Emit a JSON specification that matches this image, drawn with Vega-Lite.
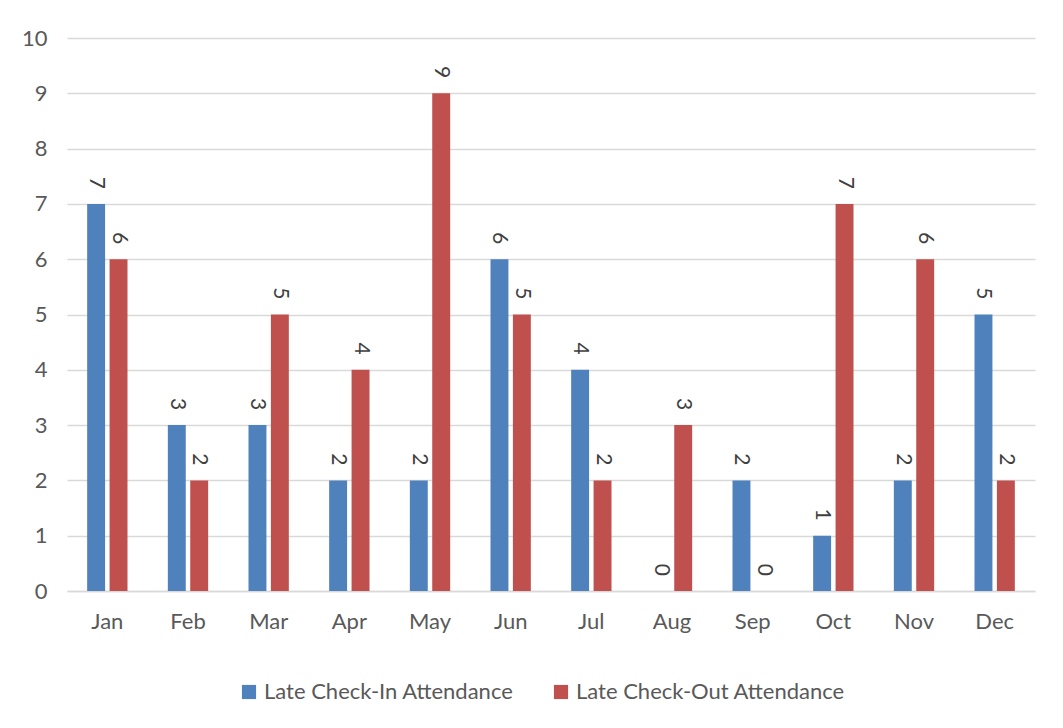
{
  "$schema": "https://vega.github.io/schema/vega-lite/v6.json",
  "width": 968,
  "height": 553,
  "autosize": {"type": "none"},
  "padding": {"left": 67, "top": 38, "right": 28, "bottom": 137},
  "background": "white",
  "config": {"view": {"stroke": null}, "font": "Lato"},
  "data": {
    "values": [
      {"month": "Jan", "series": "Late Check-In Attendance", "value": 7},
      {"month": "Jan", "series": "Late Check-Out Attendance", "value": 6},
      {"month": "Feb", "series": "Late Check-In Attendance", "value": 3},
      {"month": "Feb", "series": "Late Check-Out Attendance", "value": 2},
      {"month": "Mar", "series": "Late Check-In Attendance", "value": 3},
      {"month": "Mar", "series": "Late Check-Out Attendance", "value": 5},
      {"month": "Apr", "series": "Late Check-In Attendance", "value": 2},
      {"month": "Apr", "series": "Late Check-Out Attendance", "value": 4},
      {"month": "May", "series": "Late Check-In Attendance", "value": 2},
      {"month": "May", "series": "Late Check-Out Attendance", "value": 9},
      {"month": "Jun", "series": "Late Check-In Attendance", "value": 6},
      {"month": "Jun", "series": "Late Check-Out Attendance", "value": 5},
      {"month": "Jul", "series": "Late Check-In Attendance", "value": 4},
      {"month": "Jul", "series": "Late Check-Out Attendance", "value": 2},
      {"month": "Aug", "series": "Late Check-In Attendance", "value": 0},
      {"month": "Aug", "series": "Late Check-Out Attendance", "value": 3},
      {"month": "Sep", "series": "Late Check-In Attendance", "value": 2},
      {"month": "Sep", "series": "Late Check-Out Attendance", "value": 0},
      {"month": "Oct", "series": "Late Check-In Attendance", "value": 1},
      {"month": "Oct", "series": "Late Check-Out Attendance", "value": 7},
      {"month": "Nov", "series": "Late Check-In Attendance", "value": 2},
      {"month": "Nov", "series": "Late Check-Out Attendance", "value": 6},
      {"month": "Dec", "series": "Late Check-In Attendance", "value": 5},
      {"month": "Dec", "series": "Late Check-Out Attendance", "value": 2}
    ]
  },
  "encoding": {
    "x": {
      "field": "month",
      "type": "nominal",
      "sort": ["Jan", "Feb", "Mar", "Apr", "May", "Jun", "Jul", "Aug", "Sep", "Oct", "Nov", "Dec"],
      "scale": {"paddingInner": 0.5, "paddingOuter": 0.25},
      "axis": {
        "title": null,
        "labelAngle": 0,
        "labelFontSize": 22,
        "labelColor": "#595959",
        "ticks": false,
        "domainColor": "#d9d9d9",
        "domainWidth": 1.5,
        "labelPadding": 20
      }
    },
    "xOffset": {
      "field": "series",
      "type": "nominal",
      "sort": ["Late Check-In Attendance", "Late Check-Out Attendance"],
      "scale": {"paddingInner": 0.2, "paddingOuter": 0}
    }
  },
  "layer": [
    {
      "mark": {"type": "bar"},
      "encoding": {
        "y": {
          "field": "value",
          "type": "quantitative",
          "scale": {"domain": [0, 10]},
          "axis": {
            "title": null,
            "values": [0, 1, 2, 3, 4, 5, 6, 7, 8, 9, 10],
            "labelOverlap": false,
            "domain": false,
            "ticks": false,
            "labelFontSize": 22,
            "labelColor": "#595959",
            "labelPadding": 20,
            "gridColor": "#d9d9d9",
            "gridWidth": 1.5
          }
        },
        "color": {
          "field": "series",
          "type": "nominal",
          "sort": ["Late Check-In Attendance", "Late Check-Out Attendance"],
          "scale": {"range": ["#4F81BD", "#C0504D"]},
          "legend": {
            "title": null,
            "orient": "none",
            "direction": "horizontal",
            "legendX": 171,
            "legendY": 643,
            "symbolType": "square",
            "symbolSize": 200,
            "symbolStrokeWidth": 0,
            "labelFontSize": 22,
            "labelLimit": 0,
            "labelColor": "#595959",
            "labelOffset": 4,
            "columnPadding": 36
          }
        }
      }
    },
    {
      "mark": {
        "type": "text",
        "angle": 90,
        "align": "right",
        "baseline": "middle",
        "dx": -15,
        "fontSize": 21,
        "color": "#404040"
      },
      "encoding": {
        "y": {"field": "value", "type": "quantitative"},
        "text": {"field": "value", "type": "quantitative"}
      }
    }
  ]
}
